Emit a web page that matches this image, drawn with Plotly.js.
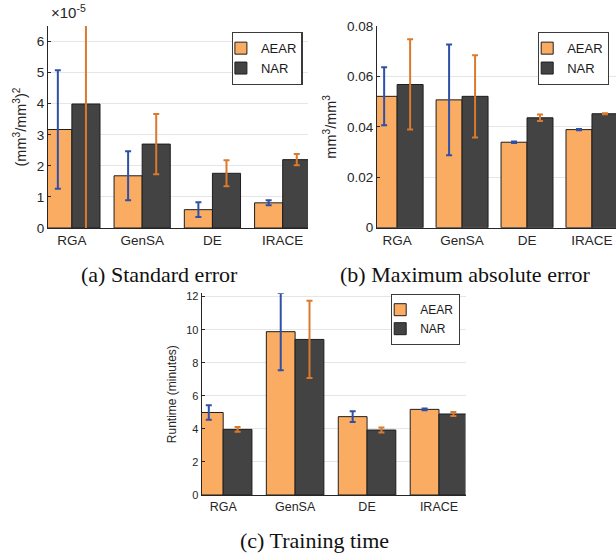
<!DOCTYPE html>
<html>
<head>
<meta charset="utf-8">
<script src="https://cdn.plot.ly/plotly-3.0.1.min.js"></script>
<style>html,body{margin:0;padding:0;background:#fff;}#chart{width:616px;height:557px;}</style>
</head>
<body>
<div id="chart"></div>
<script>
// Categories
var categories = ['RGA', 'GenSA', 'DE', 'IRACE'];

// (a) Standard error, values in units of 1e-5 (mm^3/mm^3)^2
var seAEAR = [3.17, 1.68, 0.59, 0.81];
var seAEARerr = [1.91, 0.79, 0.24, 0.08];
var seNAR = [3.99, 2.70, 1.76, 2.20];
var seNARerr = [4.30, 0.97, 0.42, 0.18];

// (b) Maximum absolute error (mm^3/mm^3)
var maeAEAR = [0.0521, 0.0507, 0.0339, 0.0389];
var maeAEARerr = [0.0115, 0.0220, 0.0003, 0.0002];
var maeNAR = [0.0568, 0.0521, 0.0436, 0.0452];
var maeNARerr = [0.0179, 0.0163, 0.0013, 0.0002];

// (c) Training time (minutes)
var rtAEAR = [4.99, 9.88, 4.74, 5.18];
var rtAEARerr = [0.44, 2.34, 0.32, 0.05];
var rtNAR = [3.97, 9.41, 3.93, 4.90];
var rtNARerr = [0.14, 2.34, 0.15, 0.12];

var seriesNames = ['AEAR', 'NAR'];
var fillColors = ['#FAAD62', '#424342'];
var errColors = ['#2F50A8', '#DB7A2C'];

function barTrace(name, y, err, idx, xa, ya, legend) {
  return {
    type: 'bar', name: name, x: categories, y: y,
    xaxis: xa, yaxis: ya, legend: legend, showlegend: true,
    marker: {color: fillColors[idx], line: {color: '#1e1e1e', width: 1}},
    error_y: {type: 'data', array: err, visible: true, color: errColors[idx], thickness: 2, width: 3},
    hoverinfo: 'x+y+name'
  };
}

var data = [
  barTrace(seriesNames[0], seAEAR, seAEARerr, 0, 'x', 'y', 'legend'),
  barTrace(seriesNames[1], seNAR, seNARerr, 1, 'x', 'y', 'legend'),
  barTrace(seriesNames[0], maeAEAR, maeAEARerr, 0, 'x2', 'y2', 'legend2'),
  barTrace(seriesNames[1], maeNAR, maeNARerr, 1, 'x2', 'y2', 'legend2'),
  barTrace(seriesNames[0], rtAEAR, rtAEARerr, 0, 'x3', 'y3', 'legend3'),
  barTrace(seriesNames[1], rtNAR, rtNARerr, 1, 'x3', 'y3', 'legend3')
];

var W = 616, H = 557;
function px(v) { return v / W; }
function py(v) { return 1 - v / H; }

var sans = 'Liberation Sans, Arial, sans-serif';
var serif = 'Liberation Serif, Times New Roman, serif';

function xax(domain, range, anchor, fs) {
  return {
    domain: domain, range: range, anchor: anchor, type: 'category',
    showline: true, linecolor: '#262626', linewidth: 1,
    ticks: '', showgrid: false, zeroline: false,
    tickfont: {family: sans, size: fs, color: '#262626'}
  };
}
function yax(domain, range, anchor, fs, title, tfs, standoff, extra) {
  var a = {
    domain: domain, range: range, anchor: anchor,
    showline: true, linecolor: '#262626', linewidth: 1,
    ticks: 'inside', ticklen: 3, tickcolor: '#262626',
    showgrid: true, gridcolor: '#e6e6e6', gridwidth: 1, zeroline: false,
    tickfont: {family: sans, size: fs, color: '#262626'},
    title: {text: title, font: {family: sans, size: tfs, color: '#262626'}, standoff: standoff}
  };
  for (var k in extra) a[k] = extra[k];
  return a;
}
function leg(xr, yt, fs) {
  return {
    x: xr, y: yt, xanchor: 'right', yanchor: 'top',
    bgcolor: '#ffffff', bordercolor: '#3a3a3a', borderwidth: 1.2,
    font: {family: sans, size: fs, color: '#1a1a1a'},
    tracegroupgap: 0, itemwidth: 30, indentation: -12
  };
}

var layout = {
  width: W, height: H,
  margin: {l: 0, r: 0, t: 0, b: 0},
  paper_bgcolor: '#ffffff', plot_bgcolor: '#ffffff',
  barmode: 'group', bargap: 0.2, bargroupgap: 0,
  xaxis: xax([px(48), px(308)], [-0.34, 3.36], 'y', 13.5),
  yaxis: yax([py(228), py(26)], [0, 6.5], 'x', 13.5,
    '(mm<sup>3</sup>/mm<sup>3</sup>)<sup>2</sup>', 14.5, 6, {dtick: 1}),
  xaxis2: xax([px(377), px(616)], [-0.31, 3.37], 'y2', 13.5),
  yaxis2: yax([py(227.7), py(26)], [0, 0.08], 'x2', 13.5,
    'mm<sup>3</sup>/mm<sup>3</sup>', 14.5, 6,
    {tickvals: [0, 0.02, 0.04, 0.06, 0.08], ticktext: ['0', '0.02', '0.04', '0.06', '0.08']}),
  xaxis3: xax([px(201.6), px(465.6)], [-0.30, 3.37], 'y3', 12.5),
  yaxis3: yax([py(495), py(293.3)], [0, 12.2], 'x3', 11,
    'Runtime (minutes)', 12, 6, {dtick: 2}),
  showlegend: true,
  legend: leg(px(302.7), py(32), 13),
  legend2: leg(px(609), py(32), 13),
  legend3: leg(px(460), py(294), 12),
  annotations: [
    {text: '×10<sup>-5</sup>', xref: 'paper', yref: 'paper', x: px(49), y: py(0),
     xanchor: 'left', yanchor: 'top', showarrow: false,
     font: {family: sans, size: 15, color: '#262626'}},
    {text: '(a) Standard error', xref: 'paper', yref: 'paper', x: px(159), y: py(275),
     xanchor: 'center', yanchor: 'middle', showarrow: false,
     font: {family: serif, size: 22, color: '#111'}},
    {text: '(b) Maximum absolute error', xref: 'paper', yref: 'paper', x: px(466), y: py(275),
     xanchor: 'center', yanchor: 'middle', showarrow: false,
     font: {family: serif, size: 22, color: '#111'}},
    {text: '(c) Training time', xref: 'paper', yref: 'paper', x: px(314), y: py(540),
     xanchor: 'center', yanchor: 'middle', showarrow: false,
     font: {family: serif, size: 22, color: '#111'}}
  ]
};

Plotly.newPlot('chart', data, layout, {displayModeBar: false, staticPlot: true});
</script>
</body>
</html>
